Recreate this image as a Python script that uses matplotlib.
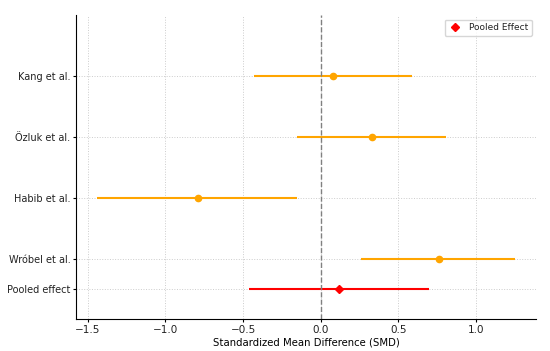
import matplotlib.pyplot as plt

studies = ["Kang et al.", "Özluk et al.", "Habib et al.", "Wróbel et al."]
smd = [0.08, 0.33, -0.79, 0.76]
ci_low = [-0.43, -0.15, -1.44, 0.26]
ci_high = [0.59, 0.81, -0.15, 1.25]
study_pos = [4, 3, 2, 1]

pooled_label = "Pooled effect"
pooled_smd = 0.12
pooled_low = -0.46
pooled_high = 0.70
pooled_pos = 0.5

plt.rcParams['font.size'] = 7
plt.rcParams['text.color'] = '#222222'
plt.rcParams['xtick.labelcolor'] = '#222222'
plt.rcParams['ytick.labelcolor'] = '#222222'
fig, ax = plt.subplots(figsize=(5.5, 3.51), dpi=100)

for y, m, lo, hi in zip(study_pos, smd, ci_low, ci_high):
    ax.errorbar(m, y, xerr=[[m - lo], [hi - m]], fmt='o', color='orange',
                ecolor='orange', elinewidth=1.5, markersize=4.5, capsize=0)

ax.errorbar(pooled_smd, pooled_pos,
            xerr=[[pooled_smd - pooled_low], [pooled_high - pooled_smd]],
            fmt='D', color='red', ecolor='red', elinewidth=1.5, markersize=4,
            capsize=0)
# marker-only handle for the legend
ax.plot([], [], 'D', color='red', markersize=4, label='Pooled Effect')

ax.axvline(0, color='gray', linestyle='--', linewidth=1)

ax.set_yticks(study_pos + [pooled_pos])
ax.set_yticklabels(studies + [pooled_label])
ax.set_ylim(0, 5)
ax.set_xlim(-1.577, 1.39)
ax.set_xlabel("Standardized Mean Difference (SMD)", labelpad=2, fontsize=7.3)
ax.tick_params(length=2, pad=2)
ax.tick_params(axis='x', labelsize=7.5)
ax.grid(True, linestyle=':', color='#cccccc', linewidth=0.7)
ax.spines['top'].set_visible(False)
ax.spines['right'].set_visible(False)
ax.legend(loc='upper right', fontsize=6.5, handlelength=1.5)

plt.subplots_adjust(left=0.138, right=0.975, top=0.957, bottom=0.09)
plt.savefig("out.png", dpi=100)
